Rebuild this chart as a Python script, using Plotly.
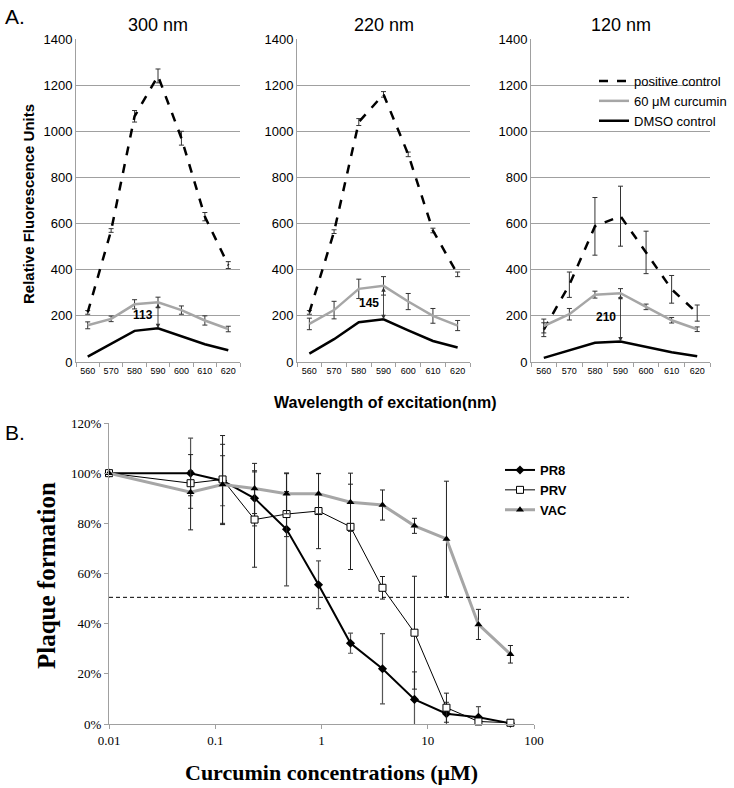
import plotly.graph_objects as go

# ---------------- Panel A data ----------------
wavelengths = ["560", "570", "580", "590", "600", "610", "620"]
panel_titles = ["300 nm", "220 nm", "120 nm"]

pos_300 = [215, 570, 1065, 1240, 970, 630, 420]
pos_300_err = [8, 8, 25, 30, 30, 18, 15]
cur_300 = [159, 187, 250, 259, 225, 180, 143]
cur_300_err = [15, 12, 20, 22, 18, 20, 12]
dmso_300 = [23, 80, 135, 146, 113, 77, 51]

pos_220 = [215, 565, 1040, 1160, 900, 570, 380]
pos_220_err = [8, 8, 15, 12, 10, 10, 10]
cur_220 = [165, 225, 317, 330, 262, 200, 158]
cur_220_err = [25, 38, 42, 40, 35, 32, 22]
dmso_220 = [36, 99, 172, 185, 137, 91, 63]

pos_120 = [140, 335, 588, 632, 475, 315, 212]
pos_120_err = [30, 55, 125, 130, 92, 60, 35]
cur_120 = [156, 207, 292, 298, 239, 181, 142]
cur_120_err = [30, 25, 15, 20, 12, 12, 10]
dmso_120 = [18, 50, 83, 89, 64, 42, 25]

gap_labels = ["113", "145", "210"]
gap_at = "590"

# ---------------- Panel B data ----------------
conc = [0.01, 0.05859375, 0.1171875, 0.234375, 0.46875, 0.9375,
        1.875, 3.75, 7.5, 15, 30, 60]
pr8 = [1.00, 1.00, 0.97, 0.90, 0.776, 0.555, 0.322, 0.22, 0.098, 0.041, 0.027, 0.003]
pr8_err = [0, 0.14, 0.10, 0.11, 0.225, 0.095, 0.04, 0.14, 0.11, 0.045, 0.042, 0.003]
prv = [1.00, 0.96, 0.975, 0.815, 0.837, 0.849, 0.786, 0.543, 0.364, 0.065, 0.01, 0.005]
prv_err = [0, 0.05, 0.175, 0.19, 0.09, 0.15, 0.17, 0.045, 0.225, 0.058, 0.01, 0.003]
vac = [1.00, 0.924, 0.955, 0.939, 0.918, 0.918, 0.884, 0.873, 0.79, 0.738, 0.397, 0.278]
vac_err = [0, 0.15, 0.16, 0.10, 0.08, 0.08, 0.116, 0.06, 0.03, 0.23, 0.06, 0.035]
b_xticks = [0.01, 0.1, 1, 10, 100]
b_xticklabels = ["0.01", "0.1", "1", "10", "100"]
ic50_level = 0.505

W, H = 734, 788


def px_x(x):
    return x / W


def px_y(y):
    return 1 - y / H


GRAY = "#A6A6A6"
AX = "#A0A0A0"
SANS = "Liberation Sans, Arial, sans-serif"
SERIF = "Liberation Serif, Times New Roman, serif"

fig = go.Figure()

panelA = [
    (pos_300, pos_300_err, cur_300, cur_300_err, dmso_300),
    (pos_220, pos_220_err, cur_220, cur_220_err, dmso_220),
    (pos_120, pos_120_err, cur_120, cur_120_err, dmso_120),
]
domainsA = [(76, 240), (297, 470), (531, 710)]
ytopA, ybotA = 39, 362
gap_idx = wavelengths.index(gap_at)

for i, (pos, pos_e, cur, cur_e, dmso) in enumerate(panelA):
    xa = "x" if i == 0 else f"x{i+1}"
    ya = "y" if i == 0 else f"y{i+1}"
    show = i == 2
    fig.add_trace(go.Scatter(
        x=wavelengths, y=pos, xaxis=xa, yaxis=ya, mode="lines",
        line=dict(color="black", width=2.5, dash="dash"),
        error_y=dict(type="data", array=pos_e, color="#333", thickness=1, width=2.5),
        name="positive control", showlegend=show, legend="legend"))
    fig.add_trace(go.Scatter(
        x=wavelengths, y=cur, xaxis=xa, yaxis=ya, mode="lines",
        line=dict(color=GRAY, width=2.5),
        error_y=dict(type="data", array=cur_e, color="#333", thickness=1, width=2.5),
        name="60 μM curcumin", showlegend=show, legend="legend"))
    fig.add_trace(go.Scatter(
        x=wavelengths, y=dmso, xaxis=xa, yaxis=ya, mode="lines",
        line=dict(color="black", width=2.5),
        name="DMSO control", showlegend=show, legend="legend"))

    x0, x1 = domainsA[i]
    fig.update_layout({
        ("xaxis" if i == 0 else f"xaxis{i+1}"): dict(
            domain=[px_x(x0), px_x(x1)], type="category", anchor=ya,
            range=[-0.5, 6.5], showline=True, linecolor=AX, linewidth=1,
            ticks="outside", tickson="boundaries", ticklen=4, tickcolor=AX,
            tickangle=0, automargin=False,
            tickfont=dict(family=SANS, size=9, color="black"), showgrid=False),
        ("yaxis" if i == 0 else f"yaxis{i+1}"): dict(
            domain=[px_y(ybotA), px_y(ytopA)], anchor=xa, range=[0, 1400],
            dtick=200, showline=True, linecolor=AX, linewidth=1, showgrid=True,
            gridcolor=AX, gridwidth=1, zeroline=False, ticks="", automargin=False,
            tickfont=dict(family=SANS, size=13, color="black")),
    })

    # gap arrow at 590 nm (category index on the category axis)
    top = cur[gap_idx]
    bot = dmso[gap_idx]
    fig.add_annotation(x=gap_idx, y=bot, ax=gap_idx, ay=top, xref=xa, yref=ya,
                       axref=xa, ayref=ya, text="", showarrow=True,
                       arrowhead=2, startarrowhead=2, arrowside="end+start",
                       arrowsize=1, arrowwidth=0.9, arrowcolor="#333",
                       standoff=0, startstandoff=0)
    fig.add_annotation(x=gap_idx, y=(top + bot) / 2, xref=xa, yref=ya,
                       text=f"<b>{gap_labels[i]}</b>", showarrow=False,
                       xanchor="right", xshift=-3,
                       font=dict(family=SANS, size=12, color="black"))
    fig.add_annotation(x=px_x((x0 + x1) / 2), y=px_y(25), xref="paper", yref="paper",
                       text=panel_titles[i], showarrow=False,
                       xanchor="center", yanchor="middle",
                       font=dict(family=SANS, size=18, color="black"))

# ---------------- Panel B ----------------
fig.add_trace(go.Scatter(
    x=conc, y=pr8, xaxis="x4", yaxis="y4", mode="lines+markers",
    line=dict(color="black", width=2),
    marker=dict(symbol="diamond", size=7, color="black"),
    error_y=dict(type="data", array=pr8_err, color="#555", thickness=1.2, width=2.5),
    name="PR8", legend="legend2", cliponaxis=False))
fig.add_trace(go.Scatter(
    x=conc, y=prv, xaxis="x4", yaxis="y4", mode="lines+markers",
    line=dict(color="black", width=1),
    marker=dict(symbol="square", size=7, color="white",
                line=dict(color="black", width=1)),
    error_y=dict(type="data", array=prv_err, color="#222", thickness=1, width=2.5),
    name="PRV", legend="legend2", cliponaxis=False))
fig.add_trace(go.Scatter(
    x=conc, y=vac, xaxis="x4", yaxis="y4", mode="lines+markers",
    line=dict(color=GRAY, width=3),
    marker=dict(symbol="triangle-up", size=7, color="black"),
    error_y=dict(type="data", array=vac_err, color="#222", thickness=1, width=2.5),
    name="VAC", legend="legend2", cliponaxis=False))

bx0, bx1 = 109, 534
by_top, by_bot = 423, 724
fig.update_layout(
    xaxis4=dict(domain=[px_x(bx0), px_x(bx1)], anchor="y4", type="log",
                range=[-2, 2], tickvals=b_xticks, ticktext=b_xticklabels,
                showline=True, linecolor=AX, linewidth=1, ticks="outside",
                ticklen=4, tickcolor=AX, showgrid=False, zeroline=False,
                tickangle=0, automargin=False,
                tickfont=dict(family=SERIF, size=13, color="black")),
    yaxis4=dict(domain=[px_y(by_bot), px_y(by_top)], anchor="x4",
                range=[0, 1.2], dtick=0.2, tickformat=".0%",
                showline=True, linecolor=AX, linewidth=1, ticks="outside",
                ticklen=4, tickcolor=AX, showgrid=False, zeroline=False,
                automargin=False,
                tickfont=dict(family=SERIF, size=13, color="black")),
)

# 50% reference dashed line (extends beyond the axis like the original)
yfrac = px_y(by_bot) + ic50_level / 1.2 * (px_y(by_top) - px_y(by_bot))
fig.add_shape(type="line", xref="paper", yref="paper",
              x0=px_x(bx0), x1=px_x(629), y0=yfrac, y1=yfrac,
              line=dict(color="black", width=1, dash="4px,3px"))

# ---------------- Text ----------------
fig.add_annotation(x=px_x(3), y=px_y(17), xref="paper", yref="paper", text="A.",
                   showarrow=False, xanchor="left", yanchor="middle",
                   font=dict(family=SANS, size=21, color="black"))
fig.add_annotation(x=px_x(3), y=px_y(432), xref="paper", yref="paper", text="B.",
                   showarrow=False, xanchor="left", yanchor="middle",
                   font=dict(family=SANS, size=21, color="black"))
fig.add_annotation(x=px_x(28), y=px_y(204), xref="paper", yref="paper",
                   text="<b>Relative Fluorescence Units</b>", textangle=-90,
                   xanchor="center", yanchor="middle",
                   showarrow=False, font=dict(family=SANS, size=15, color="black"))
fig.add_annotation(x=px_x(385), y=px_y(402), xref="paper", yref="paper",
                   text="<b>Wavelength of excitation(nm)</b>",
                   xanchor="center", yanchor="middle",
                   showarrow=False, font=dict(family=SANS, size=16, color="black"))
fig.add_annotation(x=px_x(46), y=px_y(576), xref="paper", yref="paper",
                   text="<b>Plaque formation</b>", textangle=-90,
                   xanchor="center", yanchor="middle",
                   showarrow=False, font=dict(family=SERIF, size=25, color="black"))
fig.add_annotation(x=px_x(331), y=px_y(772), xref="paper", yref="paper",
                   text="<b>Curcumin concentrations (μM)</b>",
                   xanchor="center", yanchor="middle",
                   showarrow=False, font=dict(family=SERIF, size=22, color="black"))

fig.update_layout(
    width=W, height=H,
    margin=dict(l=0, r=0, t=0, b=0, pad=0, autoexpand=False),
    paper_bgcolor="white", plot_bgcolor="white",
    legend=dict(x=px_x(594), y=px_y(66), xanchor="left", yanchor="top",
                bgcolor="rgba(0,0,0,0)", font=dict(family=SANS, size=13, color="black"),
                tracegroupgap=0, itemwidth=30),
    legend2=dict(x=px_x(500), y=px_y(455), xanchor="left", yanchor="top",
                 bgcolor="rgba(0,0,0,0)",
                 font=dict(family=SANS, size=13, color="black", weight="bold"),
                 tracegroupgap=0, itemwidth=30),
    showlegend=True,
)

# remove the browser's default page margin so the figure sits at the window origin
fig.write_html(
    "out.html",
    config={"displayModeBar": False},
    post_script="document.body.style.margin='0px';document.body.style.overflow='hidden';",
)
